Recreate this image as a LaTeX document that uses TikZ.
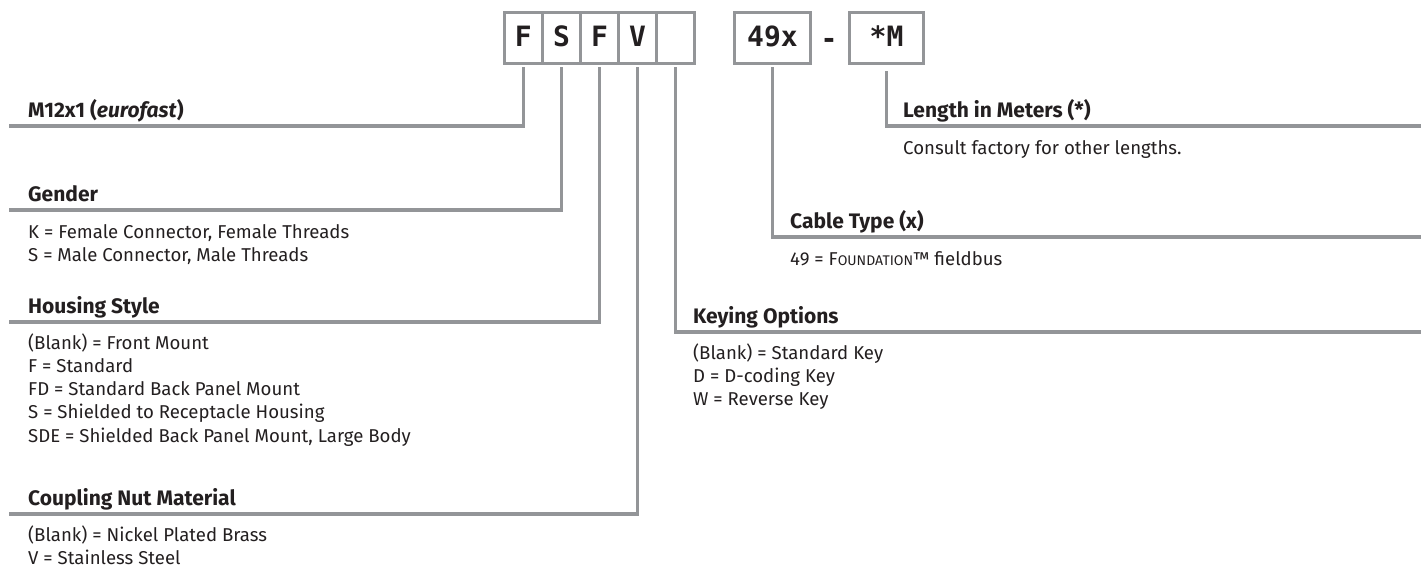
\documentclass[tikz,border=0pt]{standalone}
\usepackage{fontspec}
\setmainfont{Fira Sans}
\newfontfamily\codefont{DejaVu Sans Mono}
\definecolor{linegray}{RGB}{147,149,152}
\definecolor{ink}{RGB}{35,31,32}
\begin{document}
\begin{tikzpicture}[x=1pt,y=-1pt,
  cell/.style={draw=linegray, line width=2.8pt, minimum width=38.04pt, minimum height=51.5pt,
    inner sep=0pt, text height=20pt, text depth=4pt, text=ink,
    font=\codefont\bfseries\fontsize{28}{28}\selectfont},
  conn/.style={draw=linegray, line width=3.6pt},
  head/.style={anchor=base west, inner sep=0pt, text=ink, font=\bfseries\fontsize{21}{22}\selectfont},
  body/.style={anchor=base west, inner sep=0pt, text=ink, font=\fontsize{18.6}{20}\selectfont}]
\useasboundingbox (0,0) rectangle (1421,568);

% code boxes
\node[cell] (c1) at (523.4,38) {F};
\node[cell] (c2) at (561.5,38) {S};
\node[cell] (c3) at (599.5,38) {F};
\node[cell] (c4) at (637.6,38) {V};
\node[cell] (c5) at (675.6,38) {};
\node[cell, minimum width=76pt] (c6) at (772.5,38) {49x};
\node[cell, minimum width=74pt] (c7) at (886.5,38) {*M};
\node[inner sep=0pt, text=ink, font=\codefont\bfseries\fontsize{28}{28}\selectfont] (dash) at (829,43) {-};

% connector ends
\coordinate (e1) at (9,126);
\coordinate (e2) at (9,210);
\coordinate (e3) at (9,322);
\coordinate (e4) at (9,514);
\coordinate (e5) at (1421,332);
\coordinate (e6) at (1421,237);
\coordinate (e7) at (1421,126);

\draw[conn] ([yshift=-2pt]c1.south) |- (e1);
\draw[conn] ([yshift=-2pt]c2.south) |- (e2);
\draw[conn] ([yshift=-2pt]c3.south) |- (e3);
\draw[conn] ([yshift=-2pt]c4.south) |- (e4);
\draw[conn] ([yshift=-2pt]c5.south) |- (e5);
\draw[conn] ([yshift=-2pt]c6.south) |- (e6);
\draw[conn] ([yshift=-6pt]c7.south) |- (e7);

% M12x1
\node[head] (h1) at (28,117) {M12x1 (\textit{eurofast})};
% Gender
\node[head] (h2) at (28,201) {Gender};
\node[body] (g1) at (28,238) {K = Female Connector, Female Threads};
\node[body] (g2) at (28,261) {S = Male Connector, Male Threads};
% Housing Style
\node[head] (h3) at (28,313) {Housing Style};
\node[body] (s1) at (28,349) {(Blank) = Front Mount};
\node[body] (s2) at (28,372) {F = Standard};
\node[body] (s3) at (28,395) {FD = Standard Back Panel Mount};
\node[body] (s4) at (28,418) {S = Shielded to Receptacle Housing};
\node[body] (s5) at (28,442) {SDE = Shielded Back Panel Mount, Large Body};
% Coupling Nut Material
\node[head] (h4) at (28,505) {Coupling Nut Material};
\node[body] (n1) at (28,541) {(Blank) = Nickel Plated Brass};
\node[body] (n2) at (28,564) {V = Stainless Steel};
% Keying Options
\node[head] (h5) at (693,323) {Keying Options};
\node[body] (k1) at (693,359) {(Blank) = Standard Key};
\node[body] (k2) at (693,382) {D = D-coding Key};
\node[body] (k3) at (693,405) {W = Reverse Key};
% Cable Type
\node[head] (h6) at (790,228) {Cable Type (x)};
\node[body] (t1) at (790,265) {49 = F{\fontsize{14}{16}\selectfont OUNDATION}™ fieldbus};
% Length
\node[head] (h7) at (903,117) {Length in Meters (*)};
\node[body] (l1) at (903,154) {Consult factory for other lengths.};
\end{tikzpicture}
\end{document}
